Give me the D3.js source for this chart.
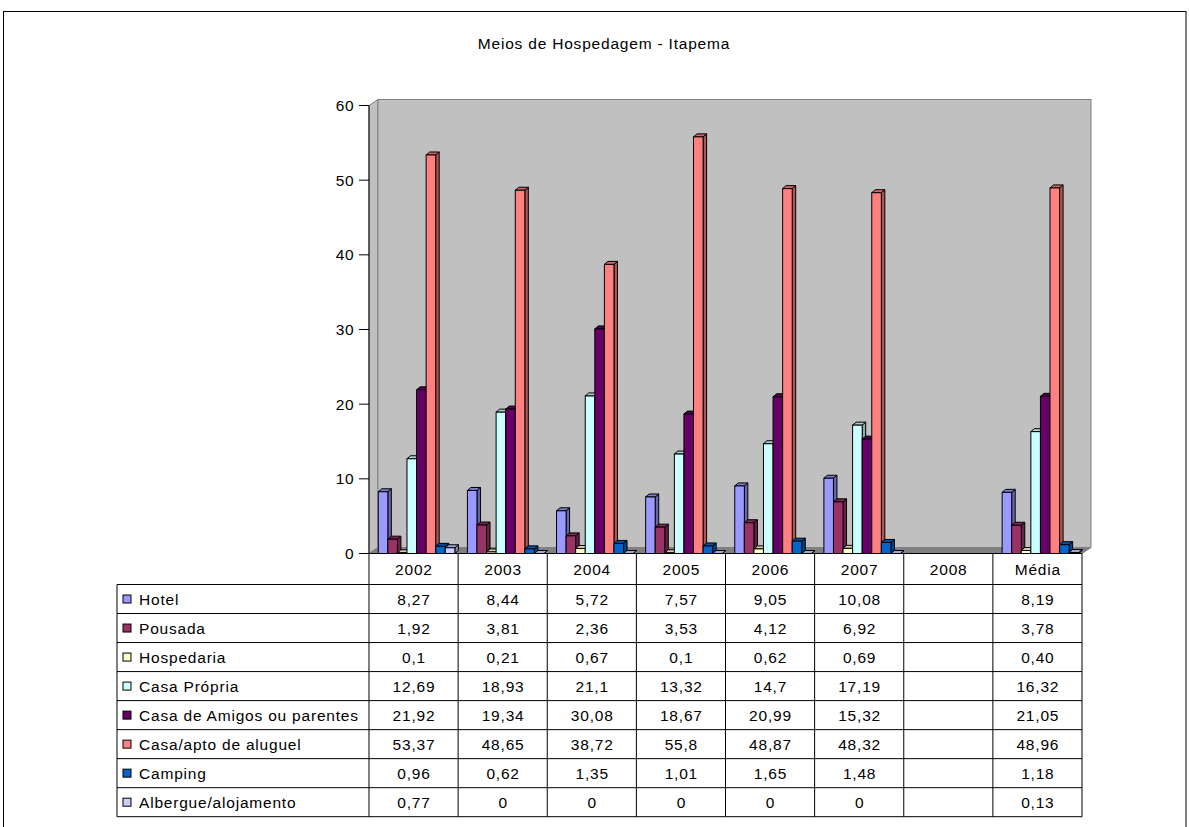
<!DOCTYPE html>
<html><head><meta charset="utf-8">
<script src="https://cdn.jsdelivr.net/npm/d3@7"></script>
<style>
body{margin:0;background:#fff;}
text{font-family:"Liberation Sans",Arial,sans-serif;}
</style></head>
<body>
<script>
const categories = ["2002","2003","2004","2005","2006","2007","2008","Média"];
const series = ["Hotel","Pousada","Hospedaria","Casa Própria","Casa de Amigos ou parentes","Casa/apto de aluguel","Camping","Albergue/alojamento"];
const colors = ["#9999FF","#993366","#FFFFCC","#CCFFFF","#660066","#FF8080","#0066CC","#CCCCFF"];
const hotel      = [8.27, 8.44, 5.72, 7.57, 9.05, 10.08, null, 8.19];
const pousada    = [1.92, 3.81, 2.36, 3.53, 4.12, 6.92, null, 3.78];
const hospedaria = [0.1, 0.21, 0.67, 0.1, 0.62, 0.69, null, 0.40];
const casaPropria= [12.69, 18.93, 21.1, 13.32, 14.7, 17.19, null, 16.32];
const amigos     = [21.92, 19.34, 30.08, 18.67, 20.99, 15.32, null, 21.05];
const aluguel    = [53.37, 48.65, 38.72, 55.8, 48.87, 48.32, null, 48.96];
const camping    = [0.96, 0.62, 1.35, 1.01, 1.65, 1.48, null, 1.18];
const albergue   = [0.77, 0, 0, 0, 0, 0, null, 0.13];
const yTicks = [0,10,20,30,40,50,60];
const title = "Meios de Hospedagem - Itapema";

const values = [hotel,pousada,hospedaria,casaPropria,amigos,aluguel,camping,albergue];

const W=1189,H=827, FS=15.5, LS=0.8;
const svg=d3.select("body").append("svg").attr("width",W).attr("height",H);

// outer border
svg.append("rect").attr("x",3.5).attr("y",11.5).attr("width",1182.5).attr("height",830)
  .attr("fill","none").attr("stroke","#000").attr("stroke-width",1);

svg.append("text").attr("x",604).attr("y",49).attr("text-anchor","middle")
  .attr("font-size",FS).attr("letter-spacing",LS).text(title);

const left=369, right=1082, y0=553.5, ddx=9, ddy=6;
const y=d3.scaleLinear().domain([0,60]).range([y0,105.5]);
const x0=d3.scaleBand().domain(categories).range([left,right]);
const groupW=76.6;
const x1=d3.scaleBand().domain(series).range([0,groupW]);
const tableBottom=816.7;

// walls
svg.append("path").attr("d",`M${left},${y(60)}L${left+ddx},${y(60)-ddy}L${left+ddx},${y0-ddy}L${left},${y0}Z`)
  .attr("fill","#C0C0C0").attr("stroke","#808080");
svg.append("rect").attr("x",left+ddx).attr("y",y(60)-ddy).attr("width",right-left).attr("height",y0-y(60))
  .attr("fill","#C0C0C0").attr("stroke","#808080");
svg.append("path").attr("d",`M${left},${y0}L${right},${y0}L${right+ddx},${y0-ddy}L${left+ddx},${y0-ddy}Z`)
  .attr("fill","#808080").attr("stroke","#808080");

// y axis
svg.append("line").attr("x1",left).attr("x2",left).attr("y1",y(60)).attr("y2",tableBottom).attr("stroke","#000");
const yg=svg.append("g");
yTicks.forEach(t=>{
  yg.append("line").attr("x1",left-10).attr("x2",left).attr("y1",y(t)).attr("y2",y(t)).attr("stroke","#000");
  yg.append("text").attr("x",354.5).attr("y",y(t)+5.5).attr("text-anchor","end").attr("font-size",FS).attr("letter-spacing",LS).text(t);
});

// bars
const bw=x1.bandwidth(), bdx=3.5, bdy=3;
const barsG=svg.append("g");
categories.forEach((c,ci)=>{
  const gx=x0(c)+(x0.bandwidth()-groupW)/2+3;
  series.forEach((s,si)=>{
    const v=values[si][ci];
    if(v===null||v===undefined) return;
    const xl=gx+x1(s), xr=xl+bw, yt=y(v), yb=y0;
    const col=d3.color(colors[si]);
    barsG.append("path").attr("d",`M${xr},${yt}L${xr+bdx},${yt-bdy}L${xr+bdx},${yb-bdy}L${xr},${yb}Z`)
      .attr("fill",col.darker(1.1)).attr("stroke","#000").attr("stroke-width",1).attr("stroke-linejoin","round");
    barsG.append("path").attr("d",`M${xl},${yt}L${xl+bdx},${yt-bdy}L${xr+bdx},${yt-bdy}L${xr},${yt}Z`)
      .attr("fill",col.darker(0.6)).attr("stroke","#000").attr("stroke-width",1).attr("stroke-linejoin","round");
    if(yb-yt>0.01)
      barsG.append("rect").attr("x",xl).attr("y",yt).attr("width",bw).attr("height",yb-yt)
        .attr("fill",colors[si]).attr("stroke","#000").attr("stroke-width",1);
  });
});

// table
const rowY=d3.scaleBand().domain(series).range([584.5,tableBottom]);
const tg=svg.append("g");
tg.append("line").attr("x1",left).attr("x2",right).attr("y1",y0).attr("y2",y0).attr("stroke","#000");
categories.forEach(c=>{
  tg.append("line").attr("x1",x0(c)+x0.bandwidth()).attr("x2",x0(c)+x0.bandwidth()).attr("y1",y0).attr("y2",tableBottom).attr("stroke","#000");
  tg.append("text").attr("x",x0(c)+x0.bandwidth()/2+0.4).attr("y",575).attr("text-anchor","middle")
    .attr("font-size",FS).attr("letter-spacing",LS).text(c);
});
tg.append("line").attr("x1",117).attr("x2",117).attr("y1",584.5).attr("y2",tableBottom).attr("stroke","#000");
const rowLines=series.map(s=>rowY(s)).concat([tableBottom]);
rowLines.forEach(yy=>{
  tg.append("line").attr("x1",117).attr("x2",right).attr("y1",yy).attr("y2",yy).attr("stroke","#000");
});
series.forEach((s,si)=>{
  const cy=rowY(s)+rowY.bandwidth()/2;
  tg.append("rect").attr("x",123).attr("y",cy-4).attr("width",8).attr("height",8)
    .attr("fill",colors[si]).attr("stroke","#000").attr("stroke-width",1);
  tg.append("text").attr("x",139).attr("y",cy+5.5).attr("font-size",FS).attr("letter-spacing",LS).text(s);
  categories.forEach((c,ci)=>{
    const v=values[si][ci];
    if(v===null) return;
    const lab = c==="Média" ? v.toFixed(2).replace(".",",") : String(v).replace(".",",");
    tg.append("text").attr("x",x0(c)+x0.bandwidth()/2+0.4).attr("y",cy+5.5).attr("text-anchor","middle")
      .attr("font-size",FS).attr("letter-spacing",LS).text(lab);
  });
});
</script>
</body></html>
